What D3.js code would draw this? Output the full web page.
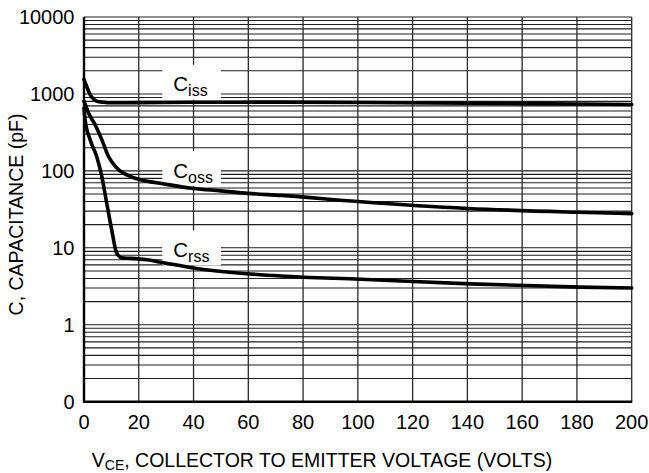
<!DOCTYPE html>
<html>
<head>
<meta charset="utf-8">
<script src="https://cdn.jsdelivr.net/npm/d3@7"></script>
<style>
  html, body { margin: 0; padding: 0; background: #fff; }
  svg { display: block; }
  text { font-family: "Liberation Sans", Arial, Helvetica, sans-serif; fill: #000; }
</style>
</head>
<body>
<svg id="chart" width="649" height="473"></svg>
<script>
// ---- data ----
const xTickValues = [0, 20, 40, 60, 80, 100, 120, 140, 160, 180, 200];
const yTickValues = [0.1, 1, 10, 100, 1000, 10000];
const yTickLabels = ["0", "1", "10", "100", "1000", "10000"];

const cissV = [0, 1, 2.2, 3.3, 4.6, 7, 10.7, 20, 40, 72, 115, 160, 200];
const cissC = [1550, 1250, 985, 870, 806, 780, 768, 770, 780, 782, 768, 748, 730];

const cossV = [0, 0.4, 1.6, 4, 6.5, 8.9, 11.9, 16.8, 20, 30, 40, 50, 60, 72, 100, 140, 180, 200];
const cossC = [800, 740, 569, 401, 255, 155, 110, 85, 78, 67, 59, 55, 51, 48, 40, 32.5, 29, 27.8];

const crssV = [0, 0.4, 2.2, 4.6, 6.5, 8.3, 10.1, 11.9, 13.8, 17, 22.9, 30, 41, 72, 101, 141, 181, 200];
const crssC = [650, 466, 255, 155, 85, 38, 17.2, 8.6, 7.4, 7.3, 7.0, 6.3, 5.4, 4.3, 3.9, 3.4, 3.08, 3.0];

const seriesNames = ["iss", "oss", "rss"];
const labelAtV = 40;

// ---- layout ----
const svg = d3.select("#chart");
const mLeft = 84, mRight = 631.7, mTop = 17, mBottom = 401.7;

const x = d3.scaleLinear().domain([0, 200]).range([mLeft, mRight]);
const y = d3.scaleLog().domain([0.1, 10000]).range([mBottom, mTop]);

// grid
const gridG = svg.append("g");
const hVals = [];
[0.1, 1, 10, 100, 1000].forEach(d => { for (let k = 1; k <= 9; k++) hVals.push(k * d); });
hVals.push(10000);

gridG.selectAll("line.h").data(hVals).enter().append("line")
  .attr("x1", mLeft).attr("x2", mRight)
  .attr("y1", d => y(d)).attr("y2", d => y(d))
  .attr("stroke", "#1e1e1e").attr("stroke-width", 1.1);

gridG.selectAll("line.v").data(xTickValues.slice(1)).enter().append("line")
  .attr("x1", d => x(d)).attr("x2", d => x(d))
  .attr("y1", mTop).attr("y2", mBottom)
  .attr("stroke", "#2a2a2a").attr("stroke-width", 1.3);

// series
const series = [
  { name: seriesNames[0], pts: cissV.map((v, i) => [v, cissC[i]]) },
  { name: seriesNames[1], pts: cossV.map((v, i) => [v, cossC[i]]) },
  { name: seriesNames[2], pts: crssV.map((v, i) => [v, crssC[i]]) }
];

const line = d3.line().x(d => x(d[0])).y(d => y(d[1])).curve(d3.curveMonotoneX);

function valueAt(pts, v) {
  for (let i = 1; i < pts.length; i++) {
    if (pts[i][0] >= v) {
      const a = pts[i - 1], b = pts[i];
      const t = (v - a[0]) / (b[0] - a[0]);
      return Math.pow(10, Math.log10(a[1]) + t * (Math.log10(b[1]) - Math.log10(a[1])));
    }
  }
  return pts[pts.length - 1][1];
}

// label boxes (white, cover grid)
const labG = svg.append("g");
series.forEach(s => {
  const base = y(valueAt(s.pts, labelAtV)) - 11;
  labG.append("rect")
    .attr("x", x(28.6)).attr("width", x(50) - x(28.6))
    .attr("y", base - 26.5).attr("height", 35)
    .attr("fill", "#fff");
  s.base = base;
});

// curves
svg.append("g").selectAll("path").data(series).enter().append("path")
  .attr("d", d => line(d.pts))
  .attr("fill", "none").attr("stroke", "#000")
  .attr("stroke-width", 3.6).attr("stroke-linejoin", "round").attr("stroke-linecap", "round");

// label texts
const txtG = svg.append("g");
series.forEach(s => {
  const t = txtG.append("text").attr("x", x(32.6)).attr("y", s.base).attr("font-size", 20.5);
  t.append("tspan").text("C");
  t.append("tspan").attr("dy", 5).attr("font-size", 16).text(s.name);
});

// axes frame
svg.append("line").attr("x1", mLeft).attr("x2", mLeft).attr("y1", mTop).attr("y2", mBottom + 1)
  .attr("stroke", "#000").attr("stroke-width", 2.4);
svg.append("line").attr("x1", mLeft - 1).attr("x2", mRight + 0.5).attr("y1", mBottom).attr("y2", mBottom)
  .attr("stroke", "#000").attr("stroke-width", 2.4);

// tick labels
svg.append("g").selectAll("text").data(yTickValues).enter().append("text")
  .attr("x", 74.5).attr("y", d => y(d) + 7.3)
  .attr("text-anchor", "end").attr("font-size", 20)
  .text((d, i) => yTickLabels[i]);

svg.append("g").selectAll("text").data(xTickValues).enter().append("text")
  .attr("x", d => x(d)).attr("y", 429)
  .attr("text-anchor", "middle").attr("font-size", 20)
  .text(d => d);

// axis titles
const xt = svg.append("text").attr("x", 322).attr("y", 466.5)
  .attr("text-anchor", "middle").attr("font-size", 19.5);
xt.append("tspan").text("V");
xt.append("tspan").attr("dy", 3.5).attr("font-size", 14).text("CE");
xt.append("tspan").attr("dy", -3.5).text(", COLLECTOR TO EMITTER VOLTAGE (VOLTS)");

svg.append("text")
  .attr("transform", "translate(23,214.5) rotate(-90)")
  .attr("text-anchor", "middle").attr("font-size", 19.5)
  .text("C, CAPACITANCE (pF)");
</script>
</body>
</html>
